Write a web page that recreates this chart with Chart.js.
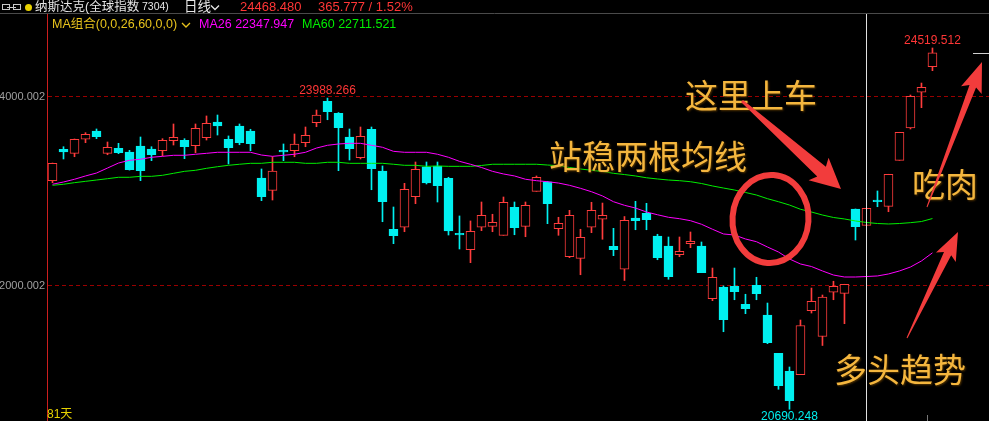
<!DOCTYPE html>
<html>
<head>
<meta charset="utf-8">
<script src="https://cdn.jsdelivr.net/npm/chart.js@4.4.1/dist/chart.umd.min.js"></script>
<style>
  html, body { margin: 0; padding: 0; background: #000; overflow: hidden; }
  #wrap { width: 989px; height: 421px; }
</style>
</head>
<body>
<div id="wrap"><canvas id="kline" width="989" height="421"></canvas></div>
<script>
// daily bars shown on screen, oldest first
const opens = [
  23113, 23446, 23403, 23552, 23640, 23403, 23456, 23417, 23481, 23449,
  23431, 23537, 23541, 23484, 23569, 23735, 23552, 23693, 23640, 23141,
  23011, 23435, 23431, 23516, 23728, 23954, 23827, 23576, 23357, 23658,
  23216, 22598, 22619, 22943, 23261, 23269, 23138, 22555, 22381, 22619,
  22629, 22534, 22831, 22629, 23000, 23102, 22604, 22307, 22290, 22619,
  22704, 22417, 22174, 22717, 22767, 22527, 22421, 22328, 22445, 22421,
  21862, 21983, 21993, 21803, 22004, 21689, 21283, 21092, 21058, 21735,
  21461, 21930, 21919, 22813, 22640, 22908, 22841, 23329, 23671, 24050,
  24321
];
const highs = [
  23300, 23473, 23555, 23622, 23661, 23523, 23509, 23435, 23576, 23473,
  23558, 23714, 23558, 23714, 23799, 23809, 23587, 23714, 23658, 23237,
  23367, 23502, 23608, 23682, 23862, 23988.266, 23835, 23661, 23682, 23682,
  23269, 22834, 23085, 23311, 23311, 23311, 23149, 22739, 22686, 22887,
  22757, 22940, 22887, 22887, 23163, 23105, 22725, 22799, 22598, 22884,
  22876, 22608, 22733, 22894, 22873, 22545, 22516, 22516, 22569, 22463,
  22187, 21997, 22187, 21909, 22089, 21816, 21283, 21138, 21636, 21975,
  21901, 22047, 22015, 22813, 22820, 23004, 23181, 23626, 24021, 24148,
  24519.512
];
const lows = [
  23092, 23343, 23367, 23516, 23558, 23388, 23399, 23225, 23113, 23325,
  23375, 23491, 23346, 23410, 23544, 23597, 23290, 23494, 23431, 22901,
  22908, 23325, 23367, 23473, 23685, 23759, 23219, 23332, 23343, 23017,
  22678, 22445, 22572, 22869, 23078, 22887, 22537, 22389, 22244, 22583,
  22572, 22534, 22540, 22519, 23000, 22657, 22534, 22297, 22116, 22562,
  22492, 22318, 22055, 22593, 22593, 22275, 22068, 22307, 22403, 22138,
  21841, 21512, 21851, 21703, 21851, 21385, 20902, 20690.248, 21058, 21710,
  21366, 21851, 21597, 22484, 22640, 22837, 22784, 23329, 23661, 23887,
  24279
];
const closes = [
  23297, 23417, 23552, 23605, 23579, 23467, 23410, 23229, 23219, 23388,
  23541, 23573, 23473, 23668, 23721, 23693, 23463, 23516, 23505, 22943,
  23216, 23417, 23502, 23594, 23809, 23844, 23675, 23452, 23583, 23240,
  22890, 22530, 23022, 23234, 23088, 23060, 22580, 22537, 22576, 22746,
  22672, 22884, 22615, 22852, 23149, 22869, 22661, 22746, 22513, 22799,
  22746, 22381, 22693, 22689, 22699, 22297, 22095, 22364, 22470, 22138,
  22089, 21639, 21936, 21756, 21915, 21396, 20940, 20781, 21578, 21834,
  21878, 21993, 22015, 22625, 22820, 22890, 23181, 23626, 24007, 24103,
  24468.48
];
const ma26 = [
  23075, 23099, 23128, 23163, 23194, 23247, 23300, 23329, 23340, 23361,
  23371, 23382, 23382, 23393, 23403, 23414, 23414, 23414, 23414, 23385,
  23371, 23382, 23393, 23414, 23459, 23488, 23502, 23509, 23509, 23488,
  23467, 23424, 23414, 23414, 23414, 23393, 23361, 23318, 23287, 23253,
  23212, 23184, 23163, 23128, 23113, 23102, 23088, 23064, 23032, 22996,
  22951, 22890, 22852, 22823, 22781, 22752, 22725, 22710, 22689, 22651,
  22598, 22548, 22537, 22495, 22466, 22410, 22357, 22283, 22230, 22203,
  22156, 22113, 22092, 22092, 22097, 22103, 22124, 22156, 22198, 22262,
  22347.947
];
const ma60 = [
  23064, 23075, 23092, 23106, 23120, 23134, 23149, 23149, 23159, 23159,
  23170, 23191, 23212, 23223, 23244, 23261, 23276, 23287, 23297, 23297,
  23308, 23308, 23308, 23297, 23297, 23308, 23308, 23297, 23297, 23297,
  23297, 23287, 23276, 23276, 23265, 23269, 23265, 23265, 23265, 23274,
  23287, 23287, 23287, 23287, 23287, 23279, 23272, 23253, 23237, 23223,
  23210, 23191, 23178, 23163, 23144, 23131, 23120, 23113, 23102, 23083,
  23057, 23035, 23014, 22988, 22961, 22922, 22890, 22855, 22810, 22781,
  22749, 22723, 22707, 22686, 22670, 22659, 22654, 22659, 22668, 22680,
  22711.521
];
const gridLevels = [22000.002, 24000.002];
const markedHighs = [25, 80];
const markedLows = [67];
const cursorIndex = 74;
const quoteChange = '365.777 / 1.52%';

const yMin = 20565.6, yMax = 24879.8;
const slotsShown = 85.64; // bar slots across the plot, last few are empty

const UP = '#ff3c3c', DOWN = '#00f0f0';
const GOLD = '#f4b63e', MARK = '#f23c3c';
const FONT = '"Liberation Sans", "Noto Sans CJK SC", sans-serif';

const isUp = closes.map((c, i) => c >= opens[i]);
const candleColor = isUp.map(u => u ? UP : DOWN);

function taperArrow(ctx, x0, y0, x1, y1, tailW, neckW, headLen, headW) {
  const len = Math.hypot(x1 - x0, y1 - y0);
  const ux = (x1 - x0) / len, uy = (y1 - y0) / len;
  const nx = -uy, ny = ux;
  const bx = x1 - ux * headLen, by = y1 - uy * headLen;
  ctx.beginPath();
  ctx.moveTo(x0 + nx * tailW / 2, y0 + ny * tailW / 2);
  ctx.lineTo(bx + nx * neckW / 2, by + ny * neckW / 2);
  ctx.lineTo(bx - ux * 4 + nx * headW / 2, by - uy * 4 + ny * headW / 2);
  ctx.lineTo(x1, y1);
  ctx.lineTo(bx - ux * 4 - nx * headW / 2, by - uy * 4 - ny * headW / 2);
  ctx.lineTo(bx - nx * neckW / 2, by - ny * neckW / 2);
  ctx.lineTo(x0 - nx * tailW / 2, y0 - ny * tailW / 2);
  ctx.closePath();
  ctx.fill();
}

function chevron(ctx, x, y, color) {
  ctx.strokeStyle = color;
  ctx.lineWidth = 1.3;
  ctx.beginPath();
  ctx.moveTo(x, y - 2);
  ctx.lineTo(x + 4, y + 2);
  ctx.lineTo(x + 8, y - 2);
  ctx.stroke();
}

const overlay = {
  id: 'overlay',
  afterDraw(chart) {
    const ctx = chart.ctx;
    const xs = chart.scales.x, ys = chart.scales.y;
    const area = chart.chartArea;
    ctx.save();

    // header separator
    ctx.strokeStyle = '#4a4a4a';
    ctx.lineWidth = 1;
    ctx.beginPath(); ctx.moveTo(0, 13.5); ctx.lineTo(989, 13.5); ctx.stroke();

    // crosshair cursor
    const cx = Math.floor(xs.getPixelForValue(cursorIndex)) + 0.5;
    ctx.strokeStyle = '#e0e0e0';
    ctx.beginPath(); ctx.moveTo(cx, area.top); ctx.lineTo(cx, area.bottom); ctx.stroke();

    // last price tick on the right edge
    const py = Math.round(ys.getPixelForValue(closes[closes.length - 1])) + 0.5;
    ctx.strokeStyle = '#cfcfcf';
    ctx.beginPath(); ctx.moveTo(973, py); ctx.lineTo(989, py); ctx.stroke();
    ctx.strokeStyle = '#777';
    ctx.beginPath(); ctx.moveTo(927.5, 415); ctx.lineTo(927.5, 421); ctx.stroke();

    // title row
    ctx.strokeStyle = '#c8c8c8';
    ctx.strokeRect(2.5, 4.5, 7, 5);
    ctx.strokeRect(13.5, 4.5, 7, 5);
    ctx.beginPath(); ctx.moveTo(7, 7.5); ctx.lineTo(16, 7.5); ctx.stroke();
    ctx.fillStyle = '#e8d200';
    ctx.beginPath(); ctx.arc(28.5, 7.5, 3.5, 0, Math.PI * 2); ctx.fill();

    ctx.textBaseline = 'middle';
    ctx.textAlign = 'left';
    ctx.fillStyle = '#e6e6e6';
    ctx.font = '12.5px ' + FONT;
    ctx.fillText('纳斯达克(全球指数', 35, 7.5);
    ctx.font = '10.5px ' + FONT;
    ctx.fillText('7304)', 142, 7.5);
    ctx.font = '13.5px ' + FONT;
    ctx.fillText('日线', 184, 7.5);
    chevron(ctx, 211, 7.5, '#e6e6e6');
    ctx.font = '13px ' + FONT;
    ctx.fillStyle = '#ff3636';
    ctx.fillText(closes[closes.length - 1].toFixed(3), 240, 7.5);
    ctx.fillText(quoteChange, 318, 7.5);

    // MA legend row
    ctx.font = '12.5px ' + FONT;
    ctx.fillStyle = '#e8c31c';
    ctx.fillText('MA组合(0,0,26,60,0,0)', 52, 25);
    chevron(ctx, 182, 25, '#e8c31c');
    ctx.fillStyle = '#ff00ff';
    ctx.fillText('MA26 ' + ma26[ma26.length - 1].toFixed(3), 199, 25);
    ctx.fillStyle = '#00ee00';
    ctx.fillText('MA60 ' + ma60[ma60.length - 1].toFixed(3), 302, 25);

    // high / low marks
    ctx.font = '12px ' + FONT;
    ctx.textAlign = 'center';
    ctx.fillStyle = '#ff3636';
    markedHighs.forEach(i => {
      ctx.fillText(highs[i].toFixed(3), xs.getPixelForValue(i), ys.getPixelForValue(highs[i]) - 7);
    });
    ctx.fillStyle = DOWN;
    markedLows.forEach(i => {
      ctx.fillText(lows[i].toFixed(3), xs.getPixelForValue(i), ys.getPixelForValue(lows[i]) + 7);
    });

    ctx.textAlign = 'left';
    ctx.textBaseline = 'top';
    ctx.fillStyle = '#e6d200';
    ctx.fillText('81天', 47, 409);

    // hand-drawn notes
    ctx.textBaseline = 'middle';
    ctx.font = '33px "Noto Sans CJK SC", sans-serif';
    ctx.shadowColor = 'rgba(90, 55, 0, 0.9)';
    ctx.shadowBlur = 2;
    ctx.shadowOffsetX = 1;
    ctx.shadowOffsetY = 1;
    ctx.fillStyle = GOLD;
    ctx.fillText('这里上车', 685, 95);
    ctx.fillText('站稳两根均线', 549, 156);
    ctx.fillText('吃肉', 912, 184);
    ctx.fillText('多头趋势', 834, 369);
    ctx.shadowColor = 'transparent';

    ctx.strokeStyle = MARK;
    ctx.lineWidth = 6;
    ctx.beginPath();
    ctx.ellipse(770.5, 219, 38, 44, 0.07, 0, Math.PI * 2);
    ctx.stroke();

    ctx.fillStyle = MARK;
    taperArrow(ctx, 742, 101, 841, 189, 3, 13, 26, 30);
    taperArrow(ctx, 927, 207, 982, 62, 1, 7, 26, 22);
    taperArrow(ctx, 907, 338, 958, 232, 1, 8, 24, 22);

    ctx.restore();
  }
};

const ctx = document.getElementById('kline').getContext('2d');
new Chart(ctx, {
  type: 'bar',
  data: {
    datasets: [
      {
        type: 'line',
        data: ma26.map((v, i) => ({ x: i, y: v })),
        borderColor: '#ff00ff',
        borderWidth: 1,
        pointRadius: 0,
        order: 0
      },
      {
        type: 'line',
        data: ma60.map((v, i) => ({ x: i, y: v })),
        borderColor: '#00ee00',
        borderWidth: 1,
        pointRadius: 0,
        order: 0
      },
      {
        // candle bodies
        data: opens.map((o, i) => ({ x: i, y: [o, closes[i]] })),
        backgroundColor: isUp.map(u => u ? '#000' : DOWN),
        borderColor: candleColor,
        borderWidth: 1,
        borderSkipped: false,
        barThickness: 9,
        minBarLength: 1,
        grouped: false,
        order: 1
      },
      {
        // wicks
        data: lows.map((l, i) => ({ x: i, y: [l, highs[i]] })),
        backgroundColor: candleColor,
        borderWidth: 0,
        barThickness: 1,
        grouped: false,
        order: 2
      }
    ]
  },
  options: {
    responsive: false,
    animation: false,
    events: [],
    layout: { autoPadding: false, padding: { top: 14, left: 0, right: 0, bottom: 0 } },
    plugins: {
      legend: { display: false },
      tooltip: { enabled: false }
    },
    scales: {
      x: {
        type: 'linear',
        min: -0.5,
        max: -0.5 + slotsShown,
        offset: false,
        display: false
      },
      y: {
        min: yMin,
        max: yMax,
        position: 'left',
        afterFit: function(scale) {
          // fixed-width price column, no extra room for the tick labels
          scale.width = 47;
          scale.paddingTop = 0;
          scale.paddingBottom = 0;
        },
        afterBuildTicks: function(scale) {
          scale.ticks = gridLevels.map(v => ({ value: v }));
        },
        ticks: {
          color: '#a0a0a0',
          padding: 2,
          font: { family: 'Liberation Sans', size: 11 },
          callback: v => v.toFixed(3)
        },
        grid: { color: '#9a0000', drawTicks: false },
        border: { color: '#cc1e1e', dash: [4, 3] }
      }
    }
  },
  plugins: [overlay]
});
</script>
</body>
</html>
